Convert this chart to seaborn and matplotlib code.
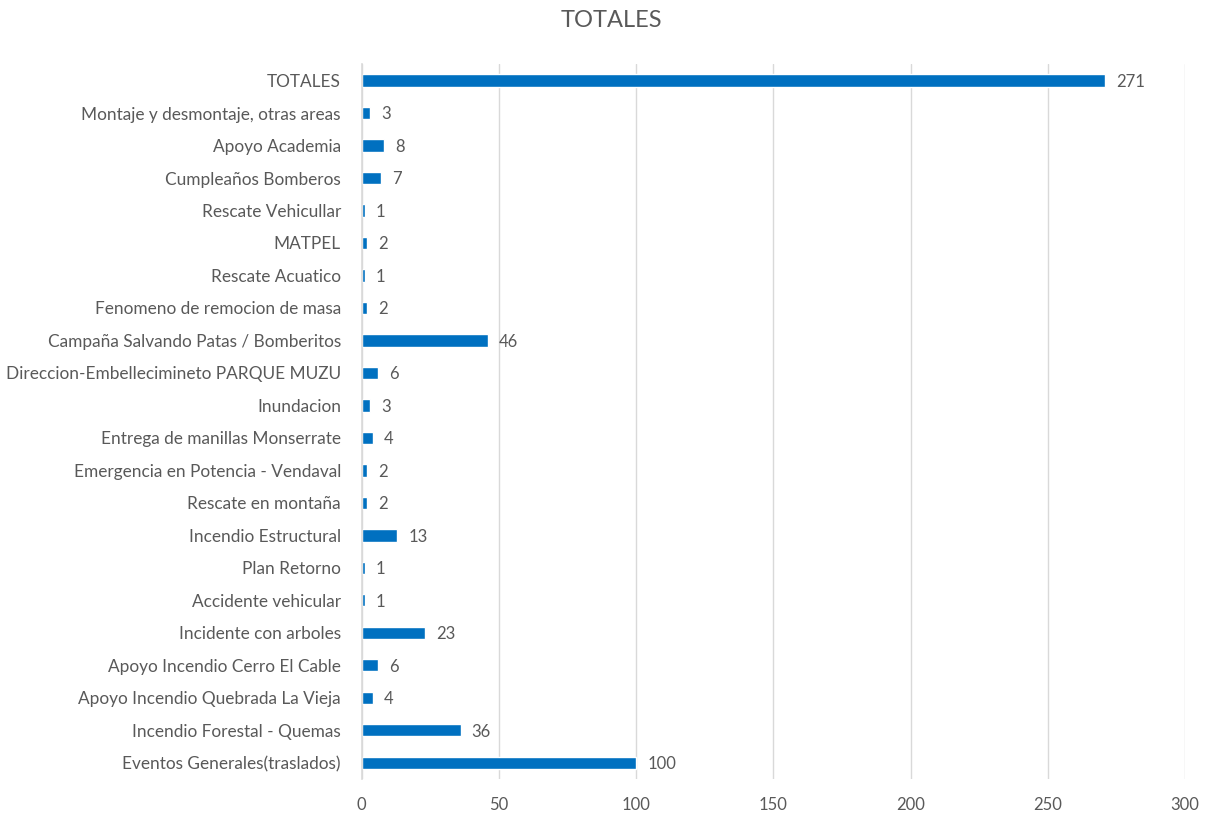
import matplotlib
matplotlib.use("Agg")
import matplotlib.pyplot as plt
import seaborn as sns
import pandas as pd

categorias = [
    "TOTALES",
    "Montaje y desmontaje, otras areas",
    "Apoyo Academia",
    "Cumpleaños Bomberos",
    "Rescate Vehicullar",
    "MATPEL",
    "Rescate Acuatico",
    "Fenomeno de remocion de masa",
    "Campaña Salvando Patas / Bomberitos",
    "Direccion-Embellecimineto PARQUE MUZU",
    "Inundacion",
    "Entrega de manillas Monserrate",
    "Emergencia en Potencia - Vendaval",
    "Rescate en montaña",
    "Incendio Estructural",
    "Plan Retorno",
    "Accidente vehicular",
    "Incidente con arboles",
    "Apoyo Incendio Cerro El Cable",
    "Apoyo Incendio Quebrada La Vieja",
    "Incendio Forestal - Quemas",
    "Eventos Generales(traslados)",
]
valores = [271, 3, 8, 7, 1, 2, 1, 2, 46, 6, 3, 4, 2, 2, 13, 1, 1, 23, 6, 4, 36, 100]
ticks_x = [0, 50, 100, 150, 200, 250, 300]

df = pd.DataFrame({"categoria": categorias, "valor": valores})

sns.set_theme(style="white")
plt.rcParams["font.family"] = ["Lato", "DejaVu Sans"]

texto = "#595959"
azul = "#0070C0"

fig = plt.figure(figsize=(12.06, 8.14), dpi=100)
ax = fig.add_axes([0.300, 0.043, 0.6826, 0.878])

sns.barplot(data=df, y="categoria", x="valor", color=azul, width=0.38,
            saturation=1, orient="h", ax=ax)

ax.set_xlim(0, 300)
ax.set_xticks(ticks_x)
ax.set_ylim(len(categorias) - 0.5, -0.5)
ax.xaxis.grid(True, color="#D9D9D9", linewidth=1)
ax.set_axisbelow(True)
ax.set_xlabel("")
ax.set_ylabel("")
for s in ["top", "right", "bottom"]:
    ax.spines[s].set_visible(False)
ax.spines["left"].set_color("#D9D9D9")
ax.spines["left"].set_linewidth(1.2)
ax.tick_params(axis="both", length=0, colors=texto)
ax.tick_params(axis="x", pad=13, labelsize=12)
ax.tick_params(axis="y", pad=15, labelsize=12.4)

# value labels to the right of each bar
for i, v in enumerate(valores):
    ax.annotate(str(v), xy=(v, i), xytext=(8, -1), textcoords="offset points",
                ha="left", va="center", fontsize=12, color=texto)

fig.suptitle("TOTALES", x=0.507, y=0.988, fontsize=17, color=texto)

fig.savefig("out.png", dpi=100)
